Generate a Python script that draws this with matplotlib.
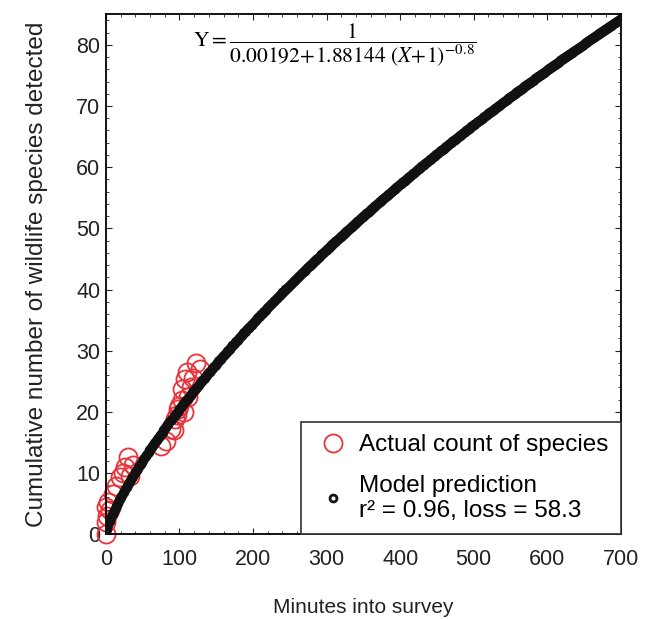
import numpy as np
import matplotlib
matplotlib.use("Agg")
import matplotlib.pyplot as plt
from matplotlib.ticker import MultipleLocator

plt.rcParams['font.family'] = ['Liberation Sans', 'DejaVu Sans']
plt.rcParams['mathtext.fontset'] = 'stix'

# observed cumulative counts (minutes, species)
obs_minutes = [0, 0, 1, 0, 3, 5, 10, 14, 19, 23, 26, 30, 37, 33,
               75, 82, 89, 94, 98, 103, 103, 108, 110, 123, 115, 100, 92,
               106, 112, 128, 118, 96]
obs_species = [0, 2, 3, 4.5, 5.3, 4, 6.5, 7.8, 9.3, 10, 11, 12.7, 11.3, 9.5,
               14.4, 15.2, 17.2, 18.8, 20.5, 22, 23.7, 25.3, 26.5, 28, 24, 21, 17,
               20, 22.5, 27, 25.5, 19.5]

# fitted model Y = 1 / (a + b (X+1)^c), as printed on the chart
coef_a = 0.00192
coef_b = 1.88144
coef_c = -0.8
pred_minutes = np.arange(0, 701, 1)
pred_species = 1.0 / (coef_a + coef_b * (pred_minutes + 1.0) ** coef_c)

fig = plt.figure(figsize=(6.46, 6.19), dpi=100)
ax = fig.add_axes([0.164, 0.137, 0.797, 0.84])

ax.plot(obs_minutes, obs_species, linestyle='none', marker='o', markersize=13,
        markerfacecolor='none', markeredgecolor='#e8333a', markeredgewidth=1.3,
        clip_on=False, zorder=2, label='Actual count of species')
ax.plot(pred_minutes, pred_species, linestyle='none', marker='o', markersize=5,
        markerfacecolor='none', markeredgecolor='#111111', markeredgewidth=2.0,
        zorder=3, label='Model prediction\nr² = 0.96, loss = 58.3')

ax.set_xlim(0, 700)
ax.set_ylim(0, 85)
ax.xaxis.set_major_locator(MultipleLocator(100))
ax.xaxis.set_minor_locator(MultipleLocator(20))
ax.yaxis.set_major_locator(MultipleLocator(10))
ax.yaxis.set_minor_locator(MultipleLocator(2))
ax.tick_params(which='both', direction='in', top=True, right=True, labelsize=15.5,
               colors='#222222')
ax.tick_params(axis='x', which='major', length=4, pad=11)
ax.tick_params(axis='y', which='major', length=4, pad=4)
ax.tick_params(which='minor', length=2)
for s in ax.spines.values():
    s.set_linewidth(1.3)

ax.set_xlabel('Minutes into survey', fontsize=15, labelpad=20, color='#222222')
ax.set_ylabel('Cumulative number of wildlife species detected', fontsize=17.5,
              labelpad=20, color='#222222')

ax.text(0.445, 0.94,
        r'$\mathrm{Y} = \dfrac{1}{0.00192\!+\!1.88144\ (X\!+\!1)^{-0.8}}$',
        transform=ax.transAxes, ha='center', va='center', fontsize=15.5)

leg = ax.legend(loc='lower right', fontsize=17.5, frameon=True, fancybox=False,
                edgecolor='#333333', framealpha=1, borderaxespad=0,
                handletextpad=0.3, handlelength=1.6, labelspacing=0.75,
                borderpad=0.5, markerscale=1.0)
leg.get_frame().set_linewidth(1.2)

fig.savefig('out.png', dpi=100)
